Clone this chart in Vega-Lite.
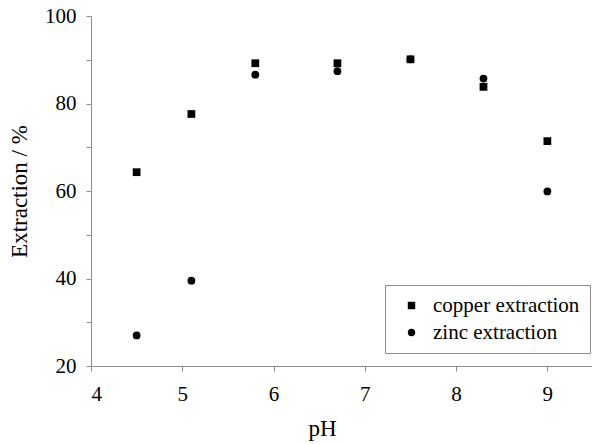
{
  "$schema": "https://vega.github.io/schema/vega-lite/v6.json",
  "width": 502,
  "height": 350,
  "autosize": {"type": "none"},
  "padding": {"left": 91, "top": 16, "right": 0, "bottom": 78},
  "background": "white",
  "config": {
    "view": {"stroke": null},
    "font": "Liberation Serif",
    "style": {
      "guide-label": {"font": "Liberation Serif", "fontSize": 21, "fill": "black"},
      "guide-title": {"font": "Liberation Serif", "fontSize": 23, "fontWeight": "normal"}
    },
    "axis": {
      "grid": false,
      "domainColor": "#8c8c8c",
      "tickColor": "#8c8c8c",
      "labelColor": "black",
      "titleColor": "black",
      "labelFont": "Liberation Serif",
      "titleFont": "Liberation Serif",
      "labelFontSize": 21,
      "titleFontSize": 23,
      "titleFontWeight": "normal",
      "tickSize": 5
    },
    "legend": {"labelFont": "Liberation Serif"}
  },
  "data": {
    "values": [
      {"pH": 4.5, "value": 64.3, "series": "copper extraction"},
      {"pH": 5.1, "value": 77.6, "series": "copper extraction"},
      {"pH": 5.8, "value": 89.2, "series": "copper extraction"},
      {"pH": 6.7, "value": 89.2, "series": "copper extraction"},
      {"pH": 7.5, "value": 90.1, "series": "copper extraction"},
      {"pH": 8.3, "value": 83.8, "series": "copper extraction"},
      {"pH": 9.0, "value": 71.4, "series": "copper extraction"},
      {"pH": 4.5, "value": 27.0, "series": "zinc extraction"},
      {"pH": 5.1, "value": 39.5, "series": "zinc extraction"},
      {"pH": 5.8, "value": 86.6, "series": "zinc extraction"},
      {"pH": 6.7, "value": 87.4, "series": "zinc extraction"},
      {"pH": 7.5, "value": 90.1, "series": "zinc extraction"},
      {"pH": 8.3, "value": 85.7, "series": "zinc extraction"},
      {"pH": 9.0, "value": 59.9, "series": "zinc extraction"}
    ]
  },
  "mark": {"type": "point", "filled": true, "opacity": 1, "size": 60},
  "encoding": {
    "x": {
      "field": "pH",
      "type": "quantitative",
      "scale": {"domain": [4, 9.5], "nice": false, "zero": false},
      "axis": {
        "title": "pH",
        "format": "d",
        "values": [4, 4.5, 5, 5.5, 6, 6.5, 7, 7.5, 8, 8.5, 9, 9.5],
        "labelExpr": "datum.value % 1 == 0 ? datum.label : ''",
        "labelPadding": 12,
        "titlePadding": 13,
        "titleX": 231
      }
    },
    "y": {
      "field": "value",
      "type": "quantitative",
      "scale": {"domain": [20, 100], "nice": false, "zero": false},
      "axis": {
        "title": "Extraction / %",
        "values": [20, 30, 40, 50, 60, 70, 80, 90, 100],
        "labelExpr": "datum.value % 20 == 0 ? datum.label : ''",
        "labelPadding": 10,
        "titlePadding": 13
      }
    },
    "shape": {
      "field": "series",
      "type": "nominal",
      "scale": {"domain": ["copper extraction", "zinc extraction"], "range": ["square", "circle"]},
      "legend": {
        "title": null,
        "orient": "none",
        "legendX": 294,
        "legendY": 269,
        "strokeColor": "#8c8c8c",
        "fillColor": "white",
        "padding": 10,
        "labelFont": "Liberation Serif",
        "labelFontSize": 21,
        "labelColor": "black",
        "symbolFillColor": "black",
        "symbolStrokeColor": "black",
        "symbolSize": 55,
        "rowPadding": 5,
        "labelOffset": 11,
        "symbolOffset": 6
      }
    },
    "color": {"value": "black"}
  }
}
